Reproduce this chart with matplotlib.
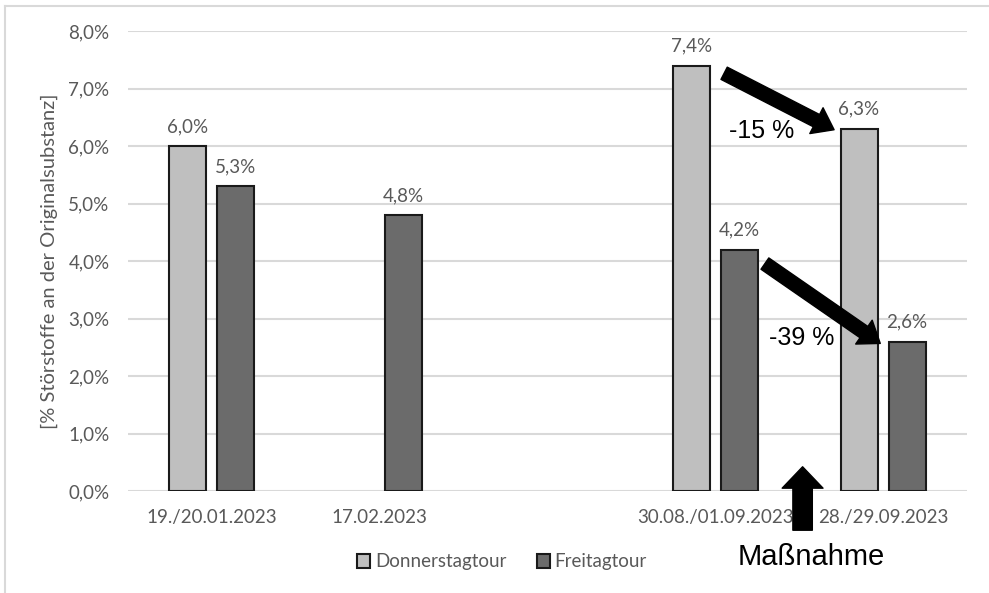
import numpy as np
import matplotlib
matplotlib.use("Agg")
import matplotlib.pyplot as plt
from matplotlib.patches import FancyArrowPatch
from matplotlib.lines import Line2D

# data
categories = ["19./20.01.2023", "17.02.2023", "", "30.08./01.09.2023", "28./29.09.2023"]
donnerstag = [6.0, np.nan, np.nan, 7.4, 6.3]
freitag = [5.3, 4.8, np.nan, 4.2, 2.6]
series_names = ["Donnerstagtour", "Freitagtour"]
changes = ["-15 %", "-39 %"]

light = "#bfbfbf"
dark = "#6b6b6b"
grey_txt = "#595959"
fs = 13.5
plt.rcParams["font.family"] = ["Lato", "DejaVu Sans"]

fig = plt.figure(figsize=(9.89, 5.93), dpi=100)
ax = fig.add_axes([127.5 / 989, 102 / 593, (967 - 127.5) / 989, 460 / 593])

x = np.arange(len(categories))
w = 0.22
off = 0.143
b1 = ax.bar(x - off, donnerstag, w, color=light, edgecolor="#1a1a1a", linewidth=1.5,
            label=series_names[0], zorder=3)
b2 = ax.bar(x + off, freitag, w, color=dark, edgecolor="#1a1a1a", linewidth=1.5,
            label=series_names[1], zorder=3)

for xs, vals in ((x - off, donnerstag), (x + off, freitag)):
    for xi, v in zip(xs, vals):
        if not np.isnan(v):
            ax.annotate(f"{v:.1f}%".replace(".", ","), (xi, v), xytext=(0, 8),
                        textcoords="offset points", ha="center", va="bottom",
                        fontsize=fs, color=grey_txt)

ax.set_xlim(-0.5, len(categories) - 0.5)
ax.set_ylim(0, 8)
ax.set_yticks(np.arange(0, 9, 1))
ax.set_yticklabels([f"{v:.1f}%".replace(".", ",") for v in range(9)])
ax.set_xticks(x)
ax.set_xticklabels(categories)
ax.tick_params(length=0, labelsize=fs, labelcolor=grey_txt)
ax.tick_params(axis="y", pad=13)
ax.tick_params(axis="x", pad=13)
ax.grid(axis="y", color="#d9d9d9", linewidth=1.5, zorder=0)
for s in ax.spines.values():
    s.set_visible(False)

fig.text(49 / 989, 1 - 261 / 593, "[% Störstoffe an der Originalsubstanz]", rotation=90,
         ha="center", va="center", fontsize=14.5, color=grey_txt)

fig.legend(handles=[b1, b2], loc="center", bbox_to_anchor=(502 / 989, 31 / 593),
           ncol=2, frameon=False, fontsize=fs, labelcolor=grey_txt,
           handlelength=0.7, handleheight=0.7, handletextpad=0.25, columnspacing=1.6)

# arrows showing the change after the measure
def px(xp, yp):
    return ((xp - 211.5) / 168, (491 - yp) / 57.5)

for (p0, p1) in ((px(722, 72), px(837, 131)), (px(763, 262), px(883, 345))):
    ax.add_patch(FancyArrowPatch(p0, p1, arrowstyle="simple,head_width=1.9,head_length=1.3,tail_width=0.9",
                                 mutation_scale=11, color="black", zorder=5, clip_on=False))
ax.text(*px(762, 131), changes[0], fontsize=18, family="Liberation Sans", ha="center", va="center", zorder=6)
ax.text(*px(802, 338), changes[1], fontsize=18, family="Liberation Sans", ha="center", va="center", zorder=6)

ax.add_patch(FancyArrowPatch(px(803, 533), px(803, 464),
                             arrowstyle="simple,head_width=2.1,head_length=1.1,tail_width=1.0",
                             mutation_scale=14, color="black", zorder=5, clip_on=False))
fig.text(811 / 989, 1 - 557 / 593, "Maßnahme", fontsize=21, family="Liberation Sans",
         ha="center", va="center")

fig.add_artist(Line2D([5 / 989, 5 / 989], [0, 1 - 6 / 593], color="#d9d9d9", linewidth=1.5))
fig.add_artist(Line2D([5 / 989, 1], [1 - 6 / 593, 1 - 6 / 593], color="#d9d9d9", linewidth=1.5))

fig.savefig("out.png", dpi=100)
